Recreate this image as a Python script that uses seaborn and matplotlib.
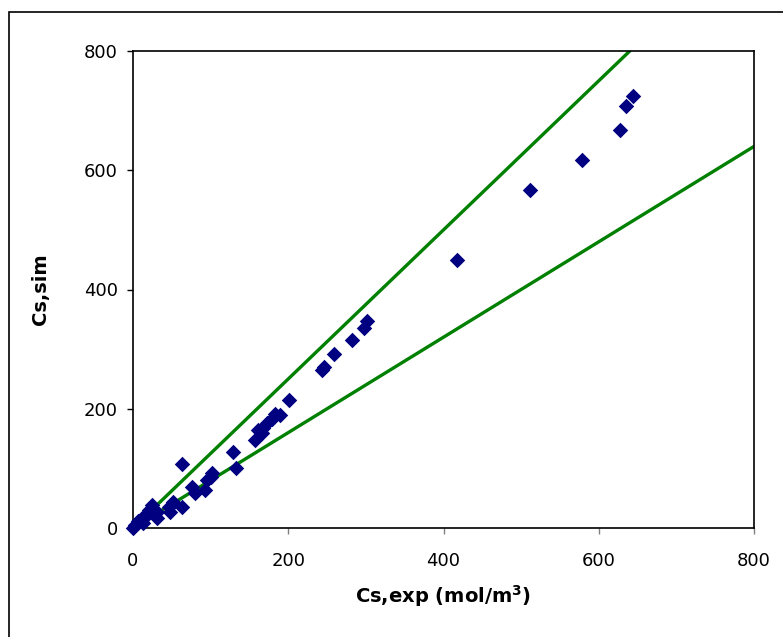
import matplotlib.pyplot as plt
import matplotlib.patches as mpatches
import seaborn as sns
import numpy as np
import pandas as pd

cs_exp = [0, 3, 7, 11, 13, 18, 20, 24, 31, 31, 46, 48, 52, 63, 63,
          76, 80, 93, 95, 101, 102, 129, 133, 157, 161, 166, 168, 173, 179,
          183, 189, 201, 243, 246, 259, 282, 298, 302,
          418, 511, 578, 627, 635, 644]
cs_sim = [0, 5, 11, 16, 8, 22, 30, 39, 27, 16, 36, 27, 44, 36, 107,
          69, 58, 64, 80, 86, 92, 128, 100, 148, 164, 159, 167, 176, 182,
          192, 190, 215, 265, 270, 292, 315, 335, 347,
          450, 567, 617, 668, 708, 725]

# +/- 25 % bounds
bound_slopes = [1.25, 0.8]
axis_max = 800

df = pd.DataFrame({'exp': cs_exp, 'sim': cs_sim})

sns.set_style('ticks')
plt.rcParams['font.family'] = ['DejaVu Sans']
plt.rcParams['text.color'] = 'black'
plt.rcParams['axes.labelcolor'] = 'black'
plt.rcParams['xtick.labelcolor'] = 'black'
plt.rcParams['ytick.labelcolor'] = 'black'

fig = plt.figure(figsize=(7.83, 6.37), dpi=100)
ax = fig.add_axes([133 / 783, 1 - 528 / 637, 621 / 783, 477 / 637])

for slope in bound_slopes:
    x_end = min(axis_max, axis_max / slope)
    ln = pd.DataFrame({'x': [0, x_end], 'y': [0, slope * x_end]})
    sns.lineplot(data=ln, x='x', y='y', ax=ax, color='#008000', lw=2.4, zorder=2)

sns.scatterplot(data=df, x='exp', y='sim', ax=ax, marker='D', s=62,
                color='#000080', edgecolor='#000080', linewidth=0, zorder=3,
                clip_on=False)

ax.set_xlim(0, axis_max)
ax.set_ylim(0, axis_max)
ax.set_xticks([0, 200, 400, 600, 800])
ax.set_yticks([0, 200, 400, 600, 800])
ax.tick_params(axis='x', direction='out', length=4, width=1, color='#808080',
               pad=13, labelsize=13)
ax.tick_params(axis='y', direction='out', length=4, width=1, color='black',
               pad=7, labelsize=13)
for sp in ax.spines.values():
    sp.set_visible(True)
    sp.set_color('black')
    sp.set_linewidth(1.2)

ax.set_xlabel('Cs,exp (mol/m$^\\mathbf{3}$)', fontsize=14, fontweight='bold', labelpad=10)
ax.set_ylabel('Cs,sim', fontsize=14, fontweight='bold', labelpad=24)

# outer chart border (cut off at right and bottom)
fig.patches.append(mpatches.Rectangle((9 / 783, -0.2), 1.5, 1.2 - 12 / 637,
                                      transform=fig.transFigure, fill=False,
                                      edgecolor='black', linewidth=1.2))

fig.savefig('out.png', dpi=100)
